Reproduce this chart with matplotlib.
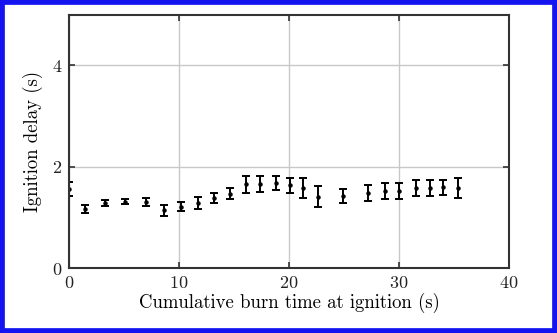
import matplotlib.pyplot as plt
import matplotlib.patches as patches

# burn time (s), ignition delay (s) and half-width of error bars
burn_time = [0.0, 1.45, 3.3, 5.1, 7.0, 8.6, 10.2, 11.7, 13.2, 14.6, 16.1, 17.4,
             18.8, 20.1, 21.3, 22.6, 24.9, 27.2, 28.7, 30.0, 31.5, 32.8, 34.0, 35.4]
delay = [1.56, 1.16, 1.28, 1.31, 1.30, 1.14, 1.21, 1.29, 1.38, 1.47, 1.65, 1.66,
         1.68, 1.63, 1.58, 1.41, 1.42, 1.48, 1.52, 1.52, 1.58, 1.58, 1.59, 1.58]
err = [0.14, 0.08, 0.06, 0.05, 0.08, 0.11, 0.09, 0.12, 0.10, 0.10, 0.16, 0.16,
       0.14, 0.15, 0.20, 0.21, 0.14, 0.15, 0.15, 0.15, 0.15, 0.15, 0.14, 0.20]
xticks = [0, 10, 20, 30, 40]
yticks = [0, 2, 4]

plt.rcParams["font.family"] = "cmr10"
plt.rcParams["axes.formatter.use_mathtext"] = True
plt.rcParams["mathtext.fontset"] = "cm"

fig = plt.figure(figsize=(5.57, 3.33), dpi=100)
ax = fig.add_axes([0.124, 0.195, 0.79, 0.761])

ax.errorbar(burn_time, delay, yerr=err, fmt="o", color="black", markersize=2.2,
            ecolor="black", elinewidth=1.4, capsize=3, capthick=1.4)

ax.set_xlim(0, 40)
ax.set_ylim(0, 5)
ax.set_xticks(xticks)
ax.set_yticks(yticks)
ax.grid(True, color="#c8c8c8", linewidth=1.0)
ax.tick_params(direction="in", top=True, right=True, length=4, width=1.2,
               colors="#333333", labelsize=13, labelcolor="#222222", pad=5)
for s in ax.spines.values():
    s.set_linewidth(1.5)
    s.set_color("#333333")

ax.set_xlabel("Cumulative burn time at ignition (s)", fontsize=13.5, labelpad=1)
ax.set_ylabel("Ignition delay (s)", fontsize=13.5, labelpad=6)

# blue frame round the picture
fig.patches.append(patches.Rectangle((0, 0), 1, 1, transform=fig.transFigure,
                                     fill=False, edgecolor="#1414f0", linewidth=7))

fig.savefig("out.png", dpi=100)
